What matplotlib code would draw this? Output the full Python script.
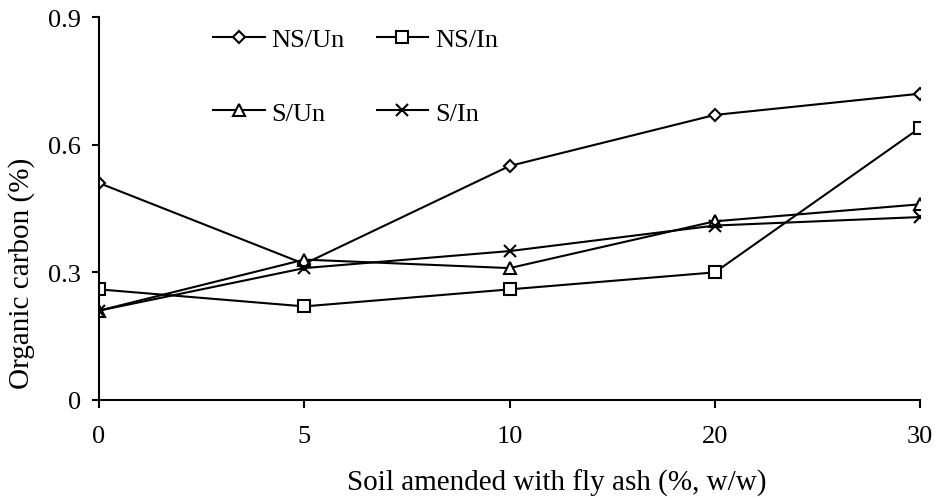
import matplotlib
matplotlib.use("Agg")
import matplotlib.pyplot as plt

# fly ash amendment levels (plotted as evenly spaced categories)
ash_levels = ["0", "5", "10", "20", "30"]

ns_un = [0.51, 0.32, 0.55, 0.67, 0.72]
ns_in = [0.26, 0.22, 0.26, 0.30, 0.64]
s_un = [0.21, 0.33, 0.31, 0.42, 0.46]
s_in = [0.21, 0.31, 0.35, 0.41, 0.43]

plt.rcParams['font.family'] = ['Liberation Serif', 'DejaVu Serif']

fig = plt.figure(figsize=(9.38, 5.02), dpi=100)
ax = fig.add_axes([0.1055, 0.2012, 0.8755, 0.7628])

pos = list(range(len(ash_levels)))
style = dict(color='black', lw=1.5, mfc='white', mec='black', mew=1.5)

l1, = ax.plot(pos, ns_un, marker='D', ms=6.5, label='NS/Un', **style)
l2, = ax.plot(pos, ns_in, marker='s', ms=9, label='NS/In', **style)
l3, = ax.plot(pos, s_un, marker='^', ms=9, label='S/Un', **style)
l4, = ax.plot(pos, s_in, marker='x', ms=9, label='S/In', **style)

ax.set_xlim(0, 4)
ax.set_ylim(0, 0.9)
ax.set_xticks(pos)
ax.set_xticklabels(ash_levels)
ax.set_yticks([0, 0.3, 0.6, 0.9])
ax.set_yticklabels(['0', '0.3', '0.6', '0.9'])

for side in ['top', 'right']:
    ax.spines[side].set_visible(False)
for side in ['left', 'bottom']:
    ax.spines[side].set_linewidth(1.5)

ax.tick_params(axis='x', direction='out', length=6, width=1.5, pad=12, labelsize=19)
ax.tick_params(axis='y', direction='out', length=5, width=1.5, pad=8, labelsize=19)

ax.set_xlabel('Soil amended with fly ash (%, w/w)', fontsize=21)
ax.set_ylabel('Organic carbon (%)', fontsize=21)
ax.xaxis.set_label_coords(0.557, -0.18)
ax.yaxis.set_label_coords(-0.078, 0.334)

# column-major fill so rows read NS/Un NS/In, S/Un S/In
ax.legend([l1, l3, l2, l4], ['NS/Un', 'S/Un', 'NS/In', 'S/In'],
          loc='upper left', bbox_to_anchor=(0.11, 1.035), ncol=2, frameon=False,
          fontsize=19, handlelength=1.95, handletextpad=0.27,
          columnspacing=1.2, labelspacing=1.9)

fig.savefig('out.png', dpi=100)
